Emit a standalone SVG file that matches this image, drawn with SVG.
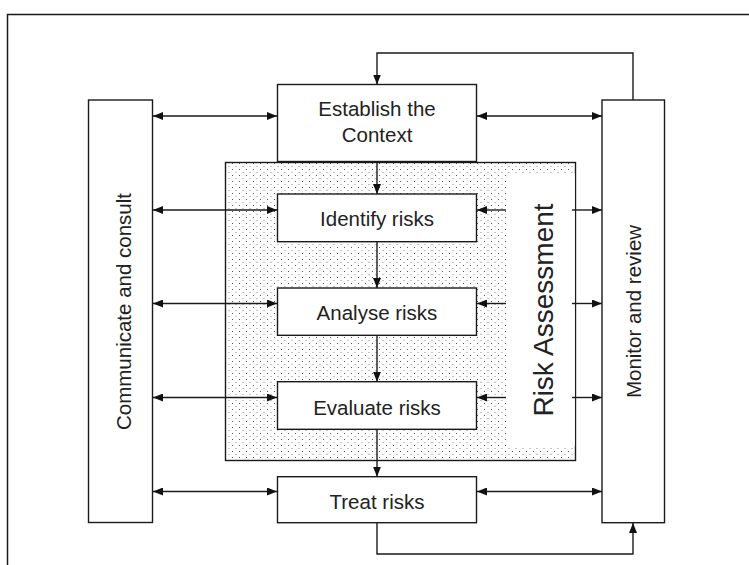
<svg xmlns="http://www.w3.org/2000/svg" width="749" height="565" viewBox="0 0 749 565">
  <style>
    .box { fill: #ffffff; stroke: #1a1a1a; stroke-width: 1.4; }
    .lbl { font-family: "Liberation Sans", Arial, sans-serif; font-size: 20.5px; fill: #222222; text-anchor: middle; }
    .big { font-size: 28px; }
    .con { fill: none; stroke: #1a1a1a; stroke-width: 1.4; }
  </style>
  <defs>
    <marker id="head" viewBox="0 0 10 8" refX="10" refY="4" markerWidth="10" markerHeight="8" markerUnits="userSpaceOnUse" orient="auto-start-reverse">
      <path d="M0,0 L10,4 L0,8 z" fill="#111111"/>
    </marker>
    <pattern id="stipple" width="7" height="6" patternUnits="userSpaceOnUse">
      <rect x="1" y="1" width="1" height="1" fill="#555555"/>
      <rect x="4.5" y="4" width="1" height="1" fill="#888888"/>
    </pattern>
  </defs>

  <!-- page frame -->
  <rect x="7.5" y="14.5" width="800" height="600" fill="none" stroke="#1a1a1a" stroke-width="1.5"/>

  <!-- risk assessment region -->
  <g id="risk-assessment">
    <rect x="225.5" y="162.5" width="350" height="298" fill="url(#stipple)" stroke="#1a1a1a" stroke-width="1.4"/>
    <rect x="506" y="174" width="68.8" height="272" fill="#ffffff"/>
    <text class="lbl big" transform="translate(553 310) rotate(-90)">Risk Assessment</text>
  </g>

  <g id="communicate">
    <rect class="box" x="88.5" y="100" width="64" height="422.5"/>
    <text class="lbl" transform="translate(130.5 311.5) rotate(-90)">Communicate and consult</text>
  </g>

  <g id="monitor">
    <rect class="box" x="602" y="100" width="62.5" height="422.7"/>
    <text class="lbl" transform="translate(641 311.5) rotate(-90)">Monitor and review</text>
  </g>

  <g id="establish">
    <rect class="box" x="277.5" y="84.5" width="199" height="77"/>
    <text class="lbl" x="377" y="116">Establish the</text>
    <text class="lbl" x="377" y="142.3">Context</text>
  </g>

  <g id="identify">
    <rect class="box" x="277.5" y="194" width="199" height="47.7"/>
    <text class="lbl" x="377" y="226">Identify risks</text>
  </g>

  <g id="analyse">
    <rect class="box" x="277.5" y="288" width="199" height="47.3"/>
    <text class="lbl" x="377" y="320">Analyse risks</text>
  </g>

  <g id="evaluate">
    <rect class="box" x="277.5" y="381.7" width="199" height="47.6"/>
    <text class="lbl" x="377" y="414.5">Evaluate risks</text>
  </g>

  <g id="treat">
    <rect class="box" x="277.5" y="476.7" width="199" height="46"/>
    <text class="lbl" x="377" y="508.5">Treat risks</text>
  </g>

  <g id="connectors">
    <!-- communicate and consult links -->
    <line class="con" x1="153" y1="116" x2="277" y2="116" marker-start="url(#head)" marker-end="url(#head)"/>
    <line class="con" x1="153" y1="210" x2="277" y2="210" marker-start="url(#head)" marker-end="url(#head)"/>
    <line class="con" x1="153" y1="303.5" x2="277" y2="303.5" marker-start="url(#head)" marker-end="url(#head)"/>
    <line class="con" x1="153" y1="397.5" x2="277" y2="397.5" marker-start="url(#head)" marker-end="url(#head)"/>
    <line class="con" x1="153" y1="491.5" x2="277" y2="491.5" marker-start="url(#head)" marker-end="url(#head)"/>

    <!-- monitor and review links -->
    <line class="con" x1="477" y1="116" x2="602" y2="116" marker-start="url(#head)" marker-end="url(#head)"/>
    <line class="con" x1="477" y1="491.5" x2="602" y2="491.5" marker-start="url(#head)" marker-end="url(#head)"/>
    <line class="con" x1="506" y1="210" x2="477" y2="210" marker-end="url(#head)"/>
    <line class="con" x1="506" y1="303.5" x2="477" y2="303.5" marker-end="url(#head)"/>
    <line class="con" x1="506" y1="397.5" x2="477" y2="397.5" marker-end="url(#head)"/>
    <line class="con" x1="572" y1="210" x2="602" y2="210" marker-end="url(#head)"/>
    <line class="con" x1="572" y1="303.5" x2="602" y2="303.5" marker-end="url(#head)"/>
    <line class="con" x1="572" y1="397.5" x2="602" y2="397.5" marker-end="url(#head)"/>

    <!-- process flow -->
    <line class="con" x1="377" y1="162" x2="377" y2="194" marker-end="url(#head)"/>
    <line class="con" x1="377" y1="241.7" x2="377" y2="288" marker-end="url(#head)"/>
    <line class="con" x1="377" y1="335.3" x2="377" y2="381.7" marker-end="url(#head)"/>
    <line class="con" x1="377" y1="429.3" x2="377" y2="476.7" marker-end="url(#head)"/>

    <!-- feedback loops -->
    <polyline class="con" points="633,100 633,53 377,53 377,84.5" marker-end="url(#head)"/>
    <polyline class="con" points="377,523 377,554 633,554 633,523" marker-end="url(#head)"/>
  </g>
</svg>
